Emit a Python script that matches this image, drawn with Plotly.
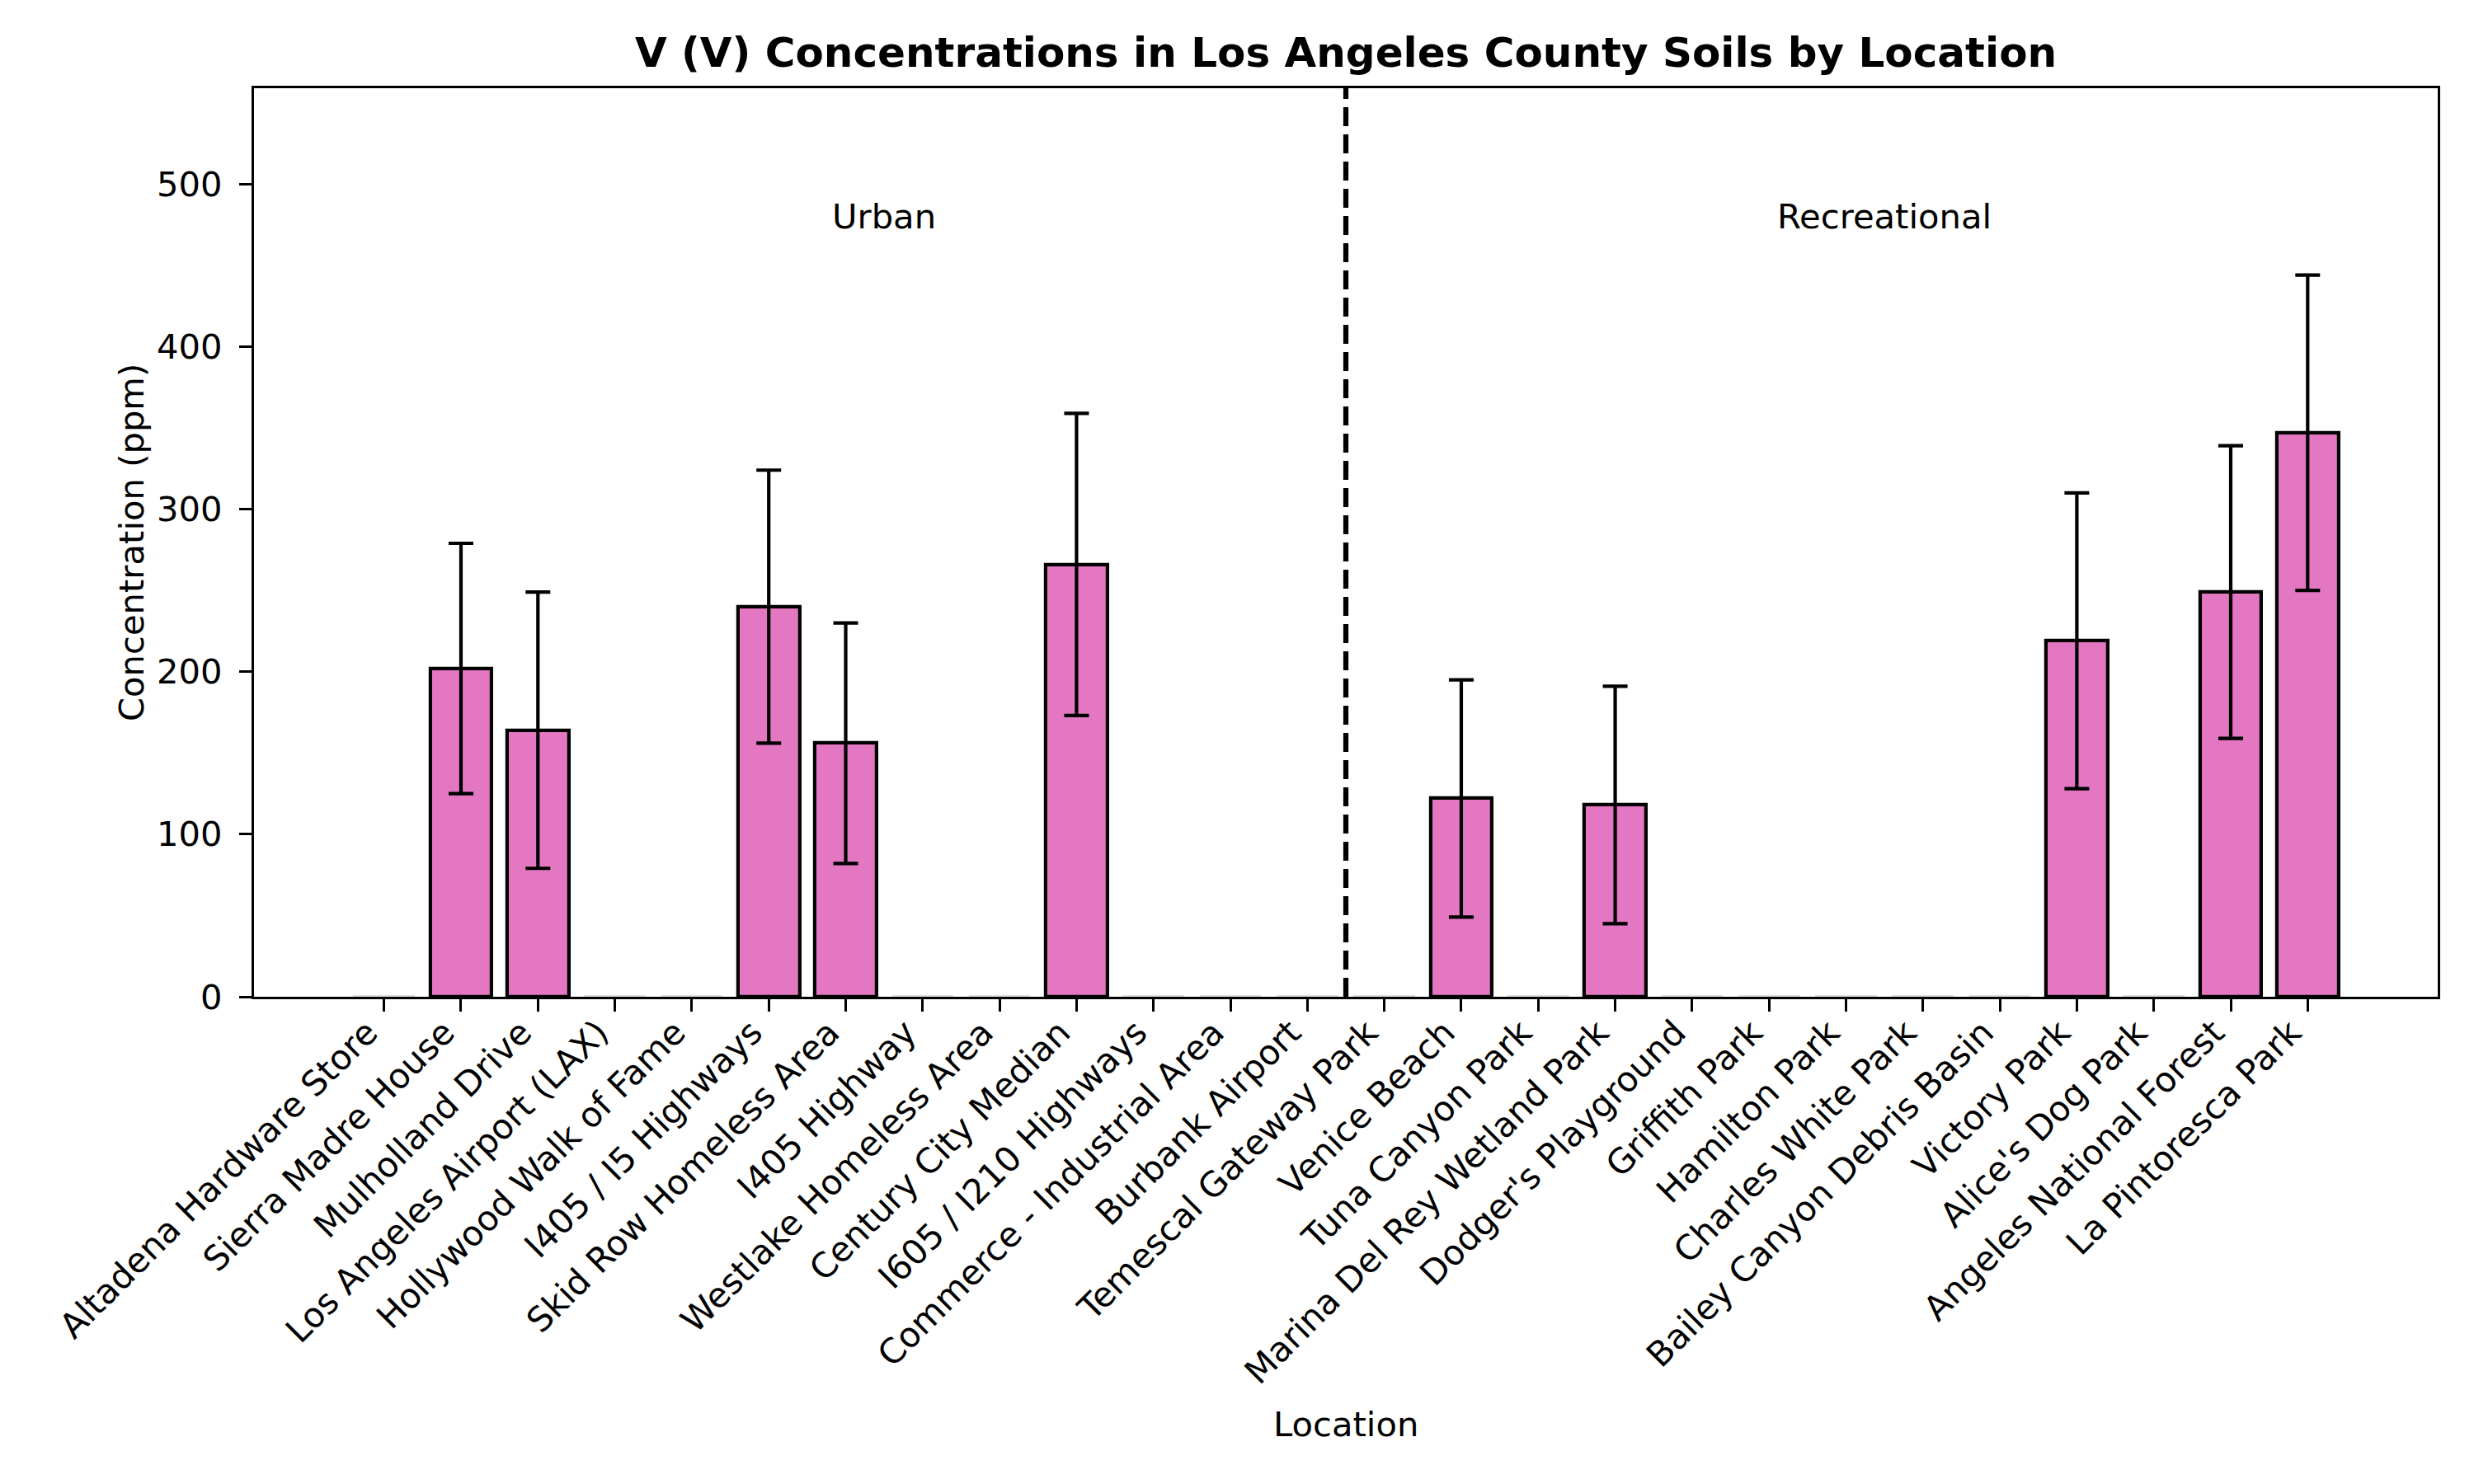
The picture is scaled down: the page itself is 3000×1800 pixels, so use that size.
import plotly.graph_objects as go

urban_locations = ["Altadena Hardware Store", "Sierra Madre House", "Mulholland Drive",
                   "Los Angeles Airport (LAX)", "Hollywood Walk of Fame", "I405 / I5 Highways",
                   "Skid Row Homeless Area", "I405 Highway", "Westlake Homeless Area",
                   "Century City Median", "I605 / I210 Highways", "Commerce - Industrial Area",
                   "Burbank Airport"]
urban_values = [0, 202, 164, 0, 0, 240, 156, 0, 0, 266, 0, 0, 0]
urban_errors = [None, 77, 85, None, None, 84, 74, None, None, 93, None, None, None]

rec_locations = ["Temescal Gateway Park", "Venice Beach", "Tuna Canyon Park",
                 "Marina Del Rey Wetland Park", "Dodger's Playground", "Griffith Park",
                 "Hamilton Park", "Charles White Park", "Bailey Canyon Debris Basin",
                 "Victory Park", "Alice's Dog Park", "Angeles National Forest",
                 "La Pintoresca Park"]
rec_values = [0, 122, 0, 118, 0, 0, 0, 0, 0, 219, 0, 249, 347]
rec_errors = [None, 73, None, 73, None, None, None, None, None, 91, None, 90, 97]

y_ticks = [0, 100, 200, 300, 400, 500]
y_max = 559

locations = urban_locations + rec_locations
values = urban_values + rec_values
errors = urban_errors + rec_errors
xs = list(range(len(locations)))
n_urban = len(urban_locations)
n_rec = len(rec_locations)

FONT = "DejaVu Sans"
FS = 41.7
LW = 3.3

edge_colors = ["black" if v else "rgba(0,0,0,0.12)" for v in values]

fig = go.Figure()
fig.add_trace(go.Bar(
    x=xs, y=values, width=0.8,
    marker=dict(color="#e377c2", line=dict(color=edge_colors, width=4.2)),
    showlegend=False, hoverinfo="skip",
))

# error bars only where a measurement exists
ex = [x for x, e in zip(xs, errors) if e is not None]
ey = [v for v, e in zip(values, errors) if e is not None]
ee = [e for e in errors if e is not None]
fig.add_trace(go.Scatter(
    x=ex, y=ey, mode="markers",
    marker=dict(size=1, opacity=0, color="black"),
    error_y=dict(type="data", array=ee, visible=True, color="black",
                 thickness=4.2, width=15),
    showlegend=False,
))

# divider between groups
fig.add_shape(type="line", xref="x", yref="paper",
              x0=n_urban - 0.5, x1=n_urban - 0.5, y0=0, y1=1,
              line=dict(color="black", width=6.25, dash="23px,10px"))

# group labels
fig.add_annotation(x=n_urban / 2, y=480, xref="x", yref="y", text="Urban",
                   showarrow=False, font=dict(family=FONT, size=FS, color="black"),
                   xanchor="center", yanchor="middle")
fig.add_annotation(x=n_urban + n_rec / 2, y=480, xref="x", yref="y", text="Recreational",
                   showarrow=False, font=dict(family=FONT, size=FS, color="black"),
                   xanchor="center", yanchor="middle")

L, R, T, B = 308, 44, 107, 591
W, H = 3000, 1800
pw, ph = W - L - R, H - T - B

# axis titles
fig.add_annotation(x=(159 - L) / pw, y=0.5, xref="paper", yref="paper",
                   text="Concentration (ppm)", showarrow=False, textangle=-90,
                   font=dict(family=FONT, size=FS, color="black"),
                   xanchor="center", yanchor="middle")
fig.add_annotation(x=0.5, y=-(1727 - (H - B)) / ph, xref="paper", yref="paper",
                   text="Location", showarrow=False,
                   font=dict(family=FONT, size=FS, color="black"),
                   xanchor="center", yanchor="middle")

fig.update_layout(
    width=W, height=H,
    margin=dict(l=L, r=R, t=T, b=B, autoexpand=False),
    paper_bgcolor="white", plot_bgcolor="white",
    font=dict(family=FONT, size=FS, color="black"),
    title=dict(text="<b>V (V) Concentrations in Los Angeles County Soils by Location</b>",
               x=(L + pw / 2) / W, xanchor="center",
               y=1 - 63 / H, yanchor="middle", yref="container",
               font=dict(family=FONT, size=50, color="black")),
    bargap=0,
)
fig.update_xaxes(
    range=[-1.69, len(locations) - 1 + 1.69],
    tickmode="array", tickvals=xs, ticktext=locations, tickangle=-45,
    ticks="outside", ticklen=15, tickwidth=LW, tickcolor="black",
    ticklabelshift=-20, ticklabelstandoff=-16,
    showline=True, linewidth=LW, linecolor="black", mirror=True,
    showgrid=False, zeroline=False,
    tickfont=dict(family=FONT, size=FS, color="black"),
)
fig.update_yaxes(
    range=[0, y_max],
    tickmode="array", tickvals=y_ticks,
    ticks="outside", ticklen=15, tickwidth=LW, tickcolor="black",
    ticklabelstandoff=12,
    showline=True, linewidth=LW, linecolor="black", mirror=True,
    showgrid=False, zeroline=False,
    tickfont=dict(family=FONT, size=FS, color="black"),
)

fig.write_html("out.html")
